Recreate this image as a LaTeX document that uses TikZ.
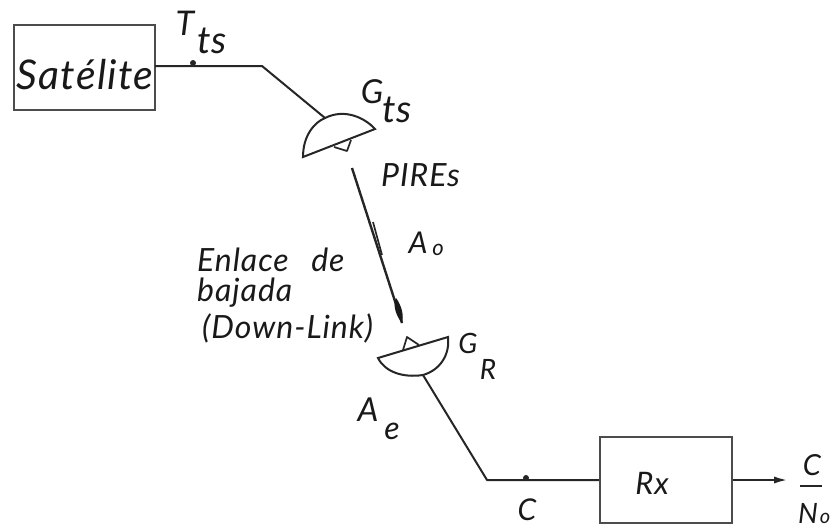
\documentclass[tikz,border=0pt]{standalone}
\usepackage{fontspec}
\usetikzlibrary{arrows.meta}
\setmainfont{Lato}
\begin{document}
\begin{tikzpicture}[x=1pt,y=-1pt,
  ink/.style={line width=2pt,draw=black!85,line join=round},
  framebox/.style={draw=black!70,line width=2.4pt,inner sep=0pt,rectangle},
  hand/.style={font=\itshape\fontsize{#1}{#1}\selectfont\addfontfeature{LetterSpace=3},text=black!90,inner sep=0pt},
  hand/.default=24,
  blob/.style={circle,fill=black!85,inner sep=0pt,minimum size=6pt}]
\useasboundingbox (0,0) rectangle (832,528);
% boxes
\node[framebox,minimum width=141pt,minimum height=85pt] (sat) at (84.5,67.5) {};
\node[hand=41] (sattext) at (85,75) {Satélite};
\node[framebox,minimum width=132pt,minimum height=86pt] (rx) at (666,480) {};
\node[hand=31] (rxtext) at (652,483) {Rx};
% uplink side
\coordinate (bend1) at (262,66);
\coordinate (dishA) at (325,118);
\coordinate (satout) at (155,66);
\draw[ink] (satout) -- (bend1) -- (dishA);
\node[blob] (dot1) at (193,63) {};
% upper dish
\coordinate (ua) at (303,157);
\coordinate (ub) at (375,129);
\draw[ink,line join=miter] (ua) .. controls (303,135) and (315,122) .. (dishA)
  .. controls (345,108) and (365,118) .. (ub) -- cycle;
\coordinate (uf1) at (334,147);
\coordinate (uf2) at (351,140);
\coordinate (uf3) at (347,151);
\draw[ink,line width=1.7pt] (uf1) -- (uf3) -- (uf2);
% downlink
\coordinate (ls) at (352,168);
\coordinate (le) at (402,323);
\draw[ink,line width=2.4pt] (ls) -- (le);
\coordinate (p1) at (373,222);
\coordinate (p2) at (382,255);
\draw[ink,line width=1.7pt] (p1) -- (p2);
\coordinate (h1) at (396,298);
\fill[black!90] (h1) .. controls (392,306) and (397,317) .. (le)
  .. controls (404,316) and (402,306) .. cycle;
% lower dish
\coordinate (la) at (378,358);
\coordinate (lb) at (448,337);
\coordinate (lc) at (423,375);
\draw[ink,line join=miter] (la) .. controls (385,372) and (403,378) .. (lc)
  .. controls (440,370) and (450,355) .. (lb) -- cycle;
\coordinate (lf1) at (403,350);
\coordinate (lf2) at (407,337);
\coordinate (lf3) at (419,345);
\draw[ink,line width=1.7pt] (lf1) -- (lf2) -- (lf3);
% receive chain
\coordinate (bend2) at (487,480);
\draw[ink] (lc) -- (bend2) -- (rx.west);
\node[blob] (dot2) at (526,478) {};
\coordinate (outend) at (789,480);
\draw[ink,line width=2.6pt,-{Latex[length=15pt,width=7pt]}] (rx.east) -- (outend);
% labels
\node[hand=34] (t) at (185,23) {T};
\node[hand=38] (tts) at (212,41) {ts};
\node[hand=33] (g) at (372,92) {G};
\node[hand=38] (gts) at (397,110) {ts};
\node[hand=32,anchor=west] (pires) at (381,175) {PIREs};
\node[hand=30] (a0) at (418,243) {A};
\node[hand=22] (a0b) at (438,250) {o};
\node[hand=32,anchor=west] (e1) at (197,260) {Enlace\hspace{14pt} de};
\node[hand=32,anchor=west] (e2) at (197,293) {bajada};
\node[hand=32,anchor=west] (e3) at (202,328) {(Down-Link)};
\node[hand=28] (gr) at (468,343) {G};
\node[hand=28] (grr) at (488,369) {R};
\node[hand=33] (ae) at (368,410) {A};
\node[hand=32] (aee) at (392,431) {e};
\node[hand=30] (cl) at (527,510) {C};
\node[hand=29] (cn) at (812,465) {C};
\coordinate (bar1) at (800,486);
\coordinate (bar2) at (822,486);
\draw[ink] (bar1) -- (bar2);
\node[hand=28] (n0) at (808,513) {N};
\node[hand=20] (n0b) at (825,518) {o};
\end{tikzpicture}
\end{document}
